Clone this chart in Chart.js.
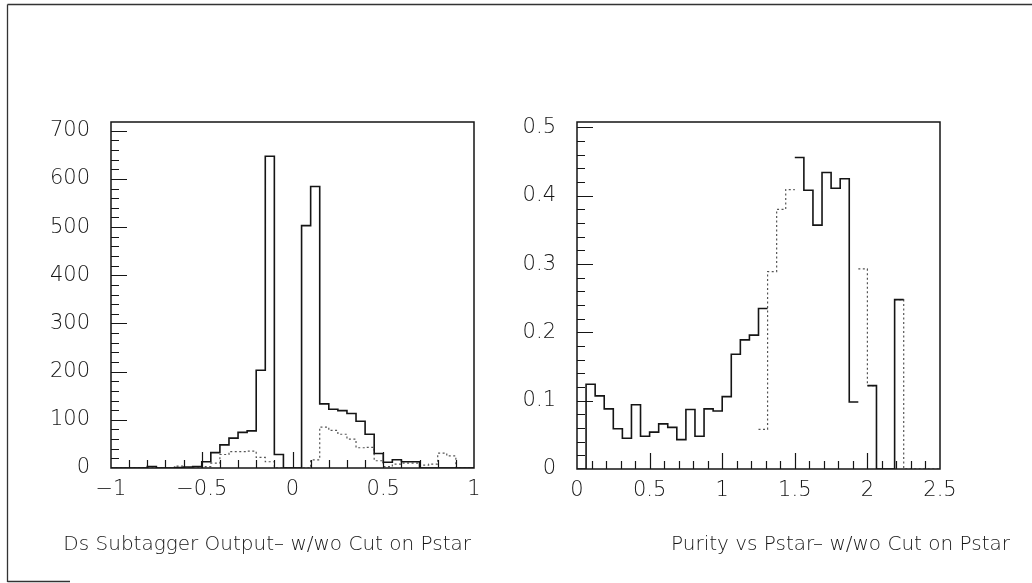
<!DOCTYPE html>
<html>
<head>
<meta charset="utf-8">
<script src="https://cdn.jsdelivr.net/npm/chart.js@4.4.1/dist/chart.umd.min.js"></script>
<style>
  html, body { margin: 0; padding: 0; background: #fff; }
  #page { position: relative; width: 1032px; height: 583px; overflow: hidden; background: #fff; }
  .pane { position: absolute; top: 0; width: 516px; height: 583px; }
</style>
</head>
<body>
<div id="page">
  <div class="pane" style="left:0"><canvas id="subtagger" width="516" height="583"></canvas></div>
  <div class="pane" style="left:516px"><canvas id="purity" width="516" height="583"></canvas></div>
</div>
<script>
// ---- Ds subtagger output: 40 equal bins on [-1, 1] ----
const subtaggerRange = [-1, 1];
const subtaggerNoCut = [
  0, 0, 0, 0, 3, 0, 0, 1, 2, 3,
  13, 32, 48, 62, 74, 77, 203, 647, 28, 0,
  0, 503, 584, 133, 122, 119, 113, 97, 70, 30,
  12, 17, 13, 13, 0, 0, 0, 0, 0, 0
];
const subtaggerCut = [
  0, 0, 0, 0, 0, 0, 0, 4, 0, 0,
  3, 10, 28, 34, 34, 35, 22, 13, 0, 0,
  0, 0, 17, 85, 78, 70, 60, 42, 43, 15,
  3, 8, 10, 10, 6, 8, 31, 25, 0, 0
];
const subtaggerXTicks = [-1, -0.5, 0, 0.5, 1];
const subtaggerYTicks = [0, 100, 200, 300, 400, 500, 600, 700];
const subtaggerYMax = 718;
const subtaggerTitle = 'Ds Subtagger Output\u2013 w/wo Cut on Pstar';

// ---- Purity vs Pstar: 40 equal bins on [0, 2.5] (null = no line drawn) ----
const purityRange = [0, 2.5];
const purityNoCut = [
  0, 0.124, 0.107, 0.088, 0.059, 0.045, 0.094, 0.048, 0.054, 0.066,
  0.061, 0.043, 0.087, 0.048, 0.088, 0.085, 0.106, 0.168, 0.189, 0.196,
  0.235, null, null, null, 0.456, 0.408, 0.357, 0.434, 0.411, 0.425,
  0.098, null, 0.122, 0, 0, 0.248, null, null, null, null
];
const purityCut = [
  null, null, null, null, null, null, null, null, null, null,
  null, null, null, null, null, null, null, null, null, null,
  0.058, 0.289, 0.380, 0.409, null, null, null, null, null, null,
  null, 0.293, 0.122, null, null, 0.248, 0, 0, 0, 0
];
const purityXTicks = [0, 0.5, 1, 1.5, 2, 2.5];
const purityYTicks = [0, 0.1, 0.2, 0.3, 0.4, 0.5];
const purityYMax = 0.508;
const purityTitle = 'Purity vs Pstar\u2013 w/wo Cut on Pstar';

// Histogram outline: step path through the bin edges; null bins leave a gap.
function outline(range, counts) {
  const n = counts.length;
  const w = (range[1] - range[0]) / n;
  const pts = [];
  for (let i = 0; i <= n; i++) {
    const x = range[0] + i * w;
    const before = i === 0 ? 0 : counts[i - 1];
    const after = i === n ? 0 : counts[i];
    pts.push({ x: x, y: before });
    pts.push({ x: x, y: after });
  }
  return pts;
}

const fmt = v => String(+v.toFixed(3)).replace('-', '\u2212');
const tickFont = { family: "'DejaVu Sans', sans-serif", size: 21, weight: '300' };
const ink = '#151515';

// Frame around the plot area with inward ticks on the bottom and left axes,
// the page border lines and the caption under each plot.
const pawFrame = {
  id: 'pawFrame',
  afterDatasetsDraw(chart, args, o) {
    const { ctx, chartArea: a, scales: { x, y } } = chart;
    ctx.save();
    ctx.strokeStyle = ink;
    ctx.lineWidth = 1.5;
    ctx.strokeRect(a.left, a.top, a.right - a.left, a.bottom - a.top);
    ctx.lineWidth = 1.2;
    const isMajor = (v, step) => Math.abs(v / step - Math.round(v / step)) < 1e-6;
    ctx.beginPath();
    const nx = Math.round((x.max - x.min) / o.xMinor);
    for (let k = 1; k < nx; k++) {
      const v = x.min + k * o.xMinor;
      const px = Math.round(x.getPixelForValue(v)) + 0.5;
      ctx.moveTo(px, a.bottom);
      ctx.lineTo(px, a.bottom - (isMajor(v, o.xMajor) ? 16 : 8));
    }
    for (let k = 1; y.min + k * o.yMinor <= y.max; k++) {
      const v = y.min + k * o.yMinor;
      const py = Math.round(y.getPixelForValue(v)) + 0.5;
      ctx.moveTo(a.left, py);
      ctx.lineTo(a.left + (isMajor(v, o.yMajor) ? 16 : 8), py);
    }
    ctx.stroke();

    ctx.strokeStyle = '#333';
    ctx.lineWidth = 1.3;
    ctx.beginPath();
    ctx.moveTo(o.pageLeft ? 7.5 : 0, 4.5);
    ctx.lineTo(chart.width, 4.5);
    if (o.pageLeft) {
      ctx.moveTo(7.5, 4.5);
      ctx.lineTo(7.5, 582);
      ctx.moveTo(7.5, 581.5);
      ctx.lineTo(70, 581.5);
    }
    ctx.stroke();

    ctx.fillStyle = ink;
    ctx.font = "300 20px 'DejaVu Sans', sans-serif";
    ctx.textAlign = 'right';
    ctx.textBaseline = 'middle';
    ctx.fillText(o.caption, o.captionRight, 545);
    ctx.restore();
  }
};

function histChart(id, cfg) {
  return new Chart(document.getElementById(id), {
    type: 'line',
    data: {
      datasets: [
        { data: outline(cfg.range, cfg.noCut), borderColor: ink, borderWidth: 1.6,
          pointRadius: 0, tension: 0, fill: false, spanGaps: false },
        { data: outline(cfg.range, cfg.cut), borderColor: '#555', borderWidth: 1.2,
          borderDash: [2, 2.5], pointRadius: 0, tension: 0, fill: false, spanGaps: false }
      ]
    },
    options: {
      responsive: false,
      animation: false,
      events: [],
      layout: { padding: { left: 0, top: 122, right: cfg.padRight, bottom: 0 } },
      plugins: {
        legend: { display: false },
        tooltip: { enabled: false },
        pawFrame: cfg.frame
      },
      scales: {
        x: {
          type: 'linear',
          min: cfg.range[0],
          max: cfg.range[1],
          grid: { display: false, drawTicks: false },
          border: { display: false },
          afterBuildTicks: s => { s.ticks = cfg.xTicks.map(v => ({ value: v })); },
          afterFit: s => { s.height = cfg.xHeight; },
          ticks: { font: tickFont, color: ink, padding: 9, maxRotation: 0, autoSkip: false,
                   callback: v => fmt(v) }
        },
        y: {
          type: 'linear',
          min: 0,
          max: cfg.yMax,
          grid: { display: false, drawTicks: false },
          border: { display: false },
          afterBuildTicks: s => { s.ticks = cfg.yTicks.map(v => ({ value: v })); },
          afterFit: s => { s.width = cfg.yWidth; },
          ticks: { font: tickFont, color: ink, padding: 21, autoSkip: false,
                   callback: v => fmt(v) }
        }
      }
    },
    plugins: [pawFrame]
  });
}

histChart('subtagger', {
  range: subtaggerRange, noCut: subtaggerNoCut, cut: subtaggerCut,
  xTicks: subtaggerXTicks, yTicks: subtaggerYTicks, yMax: subtaggerYMax,
  padRight: 42, yWidth: 111, xHeight: 115,
  frame: { xMinor: 0.1, xMajor: 0.5, yMinor: 20, yMajor: 100, pageLeft: true,
           caption: subtaggerTitle, captionRight: 471 }
});

histChart('purity', {
  range: purityRange, noCut: purityNoCut, cut: purityCut,
  xTicks: purityXTicks, yTicks: purityYTicks, yMax: purityYMax,
  padRight: 92, yWidth: 61, xHeight: 114,
  frame: { xMinor: 0.1, xMajor: 0.5, yMinor: 0.02, yMajor: 0.1, pageLeft: false,
           caption: purityTitle, captionRight: 494 }
});
</script>
</body>
</html>
